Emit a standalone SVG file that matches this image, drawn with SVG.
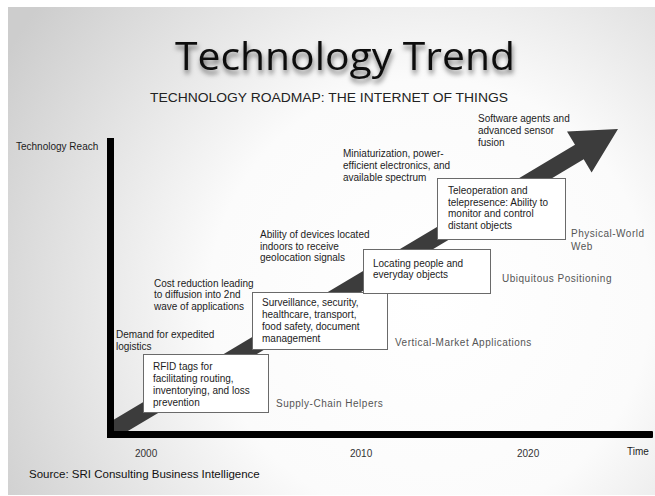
<svg xmlns="http://www.w3.org/2000/svg" width="655" height="496" viewBox="0 0 655 496">
<defs>
<radialGradient id="bg" gradientUnits="userSpaceOnUse" cx="430" cy="300" r="490">
<stop offset="0" stop-color="#ffffff"/>
<stop offset="0.45" stop-color="#fbfbfb"/>
<stop offset="1" stop-color="#cdcdcd"/>
</radialGradient>
<filter id="shadow" x="-10%" y="-30%" width="120%" height="170%">
<feDropShadow dx="1" dy="4" stdDeviation="2.5" flood-color="#000" flood-opacity="0.55"/>
</filter>
</defs>
<style>
text{font-family:"Liberation Sans",Arial,sans-serif;font-size:10px;fill:#1c1c1c}
.lbl{fill:#555;letter-spacing:0.5px}
.box rect{fill:#fff;stroke:#6a6a6a;stroke-width:1}
.axis{fill:#000}
</style>
<rect x="0" y="0" width="655" height="496" fill="#fff"/>
<rect x="8" y="7" width="647" height="488" fill="url(#bg)"/>
<text x="345" y="70" text-anchor="middle" style="font-family:'Open Sans','Noto Sans',sans-serif;font-size:39px;fill:#111" textLength="340" lengthAdjust="spacingAndGlyphs" filter="url(#shadow)">Technology Trend</text>
<text x="150" y="102" style="font-size:12.5px;fill:#222" textLength="358" lengthAdjust="spacingAndGlyphs">TECHNOLOGY ROADMAP: THE INTERNET OF THINGS</text>

<g id="connectors">
<polygon fill="#3c3c3c" points="108.6,422.7 575,144.7 567,131.4 618,129 591.6,172.6 583.7,159.3 117.4,437.3"/>
</g>

<g id="axes">
<rect class="axis" x="107" y="138" width="7" height="300"/>
<rect class="axis" x="107" y="431" width="546" height="7" rx="1"/>
<text x="16" y="150">Technology Reach</text>
<text x="135" y="457" style="fill:#333">2000</text>
<text x="350" y="457" style="fill:#333">2010</text>
<text x="517" y="457" style="fill:#333">2020</text>
<text x="627" y="455">Time</text>
</g>

<g id="rfid" class="box">
<rect x="143.5" y="354.5" width="125" height="58"/>
<text x="153" y="369.5">RFID tags for</text>
<text x="153" y="382">facilitating routing,</text>
<text x="153" y="394">inventorying, and loss</text>
<text x="153" y="406">prevention</text>
</g>

<g id="surveillance" class="box">
<rect x="252.5" y="292.5" width="135" height="57"/>
<text x="262" y="306">Surveillance, security,</text>
<text x="262" y="318">healthcare, transport,</text>
<text x="262" y="330">food safety,  document</text>
<text x="262" y="342">management</text>
</g>

<g id="locating" class="box">
<rect x="363.5" y="249.5" width="127" height="44"/>
<text x="373" y="266.5">Locating people and</text>
<text x="373" y="278">everyday objects</text>
</g>

<g id="teleoperation" class="box">
<rect x="437.5" y="178.5" width="128" height="61"/>
<text x="448" y="194">Teleoperation and</text>
<text x="448" y="205.5">telepresence: Ability to</text>
<text x="448" y="217">monitor and control</text>
<text x="448" y="228.5">distant objects</text>
</g>

<g id="drivers">
<text x="116" y="338">Demand for expedited</text>
<text x="116" y="350">logistics</text>
<text x="154" y="286.5">Cost reduction leading</text>
<text x="154" y="298">to diffusion into 2nd</text>
<text x="154" y="309.5">wave of applications</text>
<text x="260" y="238">Ability of devices located</text>
<text x="260" y="249.5">indoors to receive</text>
<text x="260" y="261">geolocation signals</text>
<text x="343" y="157">Miniaturization, power-</text>
<text x="343" y="169">efficient electronics, and</text>
<text x="343" y="181">available spectrum</text>
<text x="478" y="122">Software agents and</text>
<text x="478" y="134">advanced sensor</text>
<text x="478" y="146">fusion</text>
</g>

<g id="stages">
<text class="lbl" x="276" y="407">Supply-Chain Helpers</text>
<text class="lbl" x="395" y="346">Vertical-Market Applications</text>
<text class="lbl" x="502" y="282">Ubiquitous Positioning</text>
<text class="lbl" x="571" y="237">Physical-World</text>
<text class="lbl" x="571" y="249.5">Web</text>
</g>

<text x="29" y="478" style="font-size:11.5px;fill:#111">Source: SRI Consulting Business Intelligence</text>
</svg>
